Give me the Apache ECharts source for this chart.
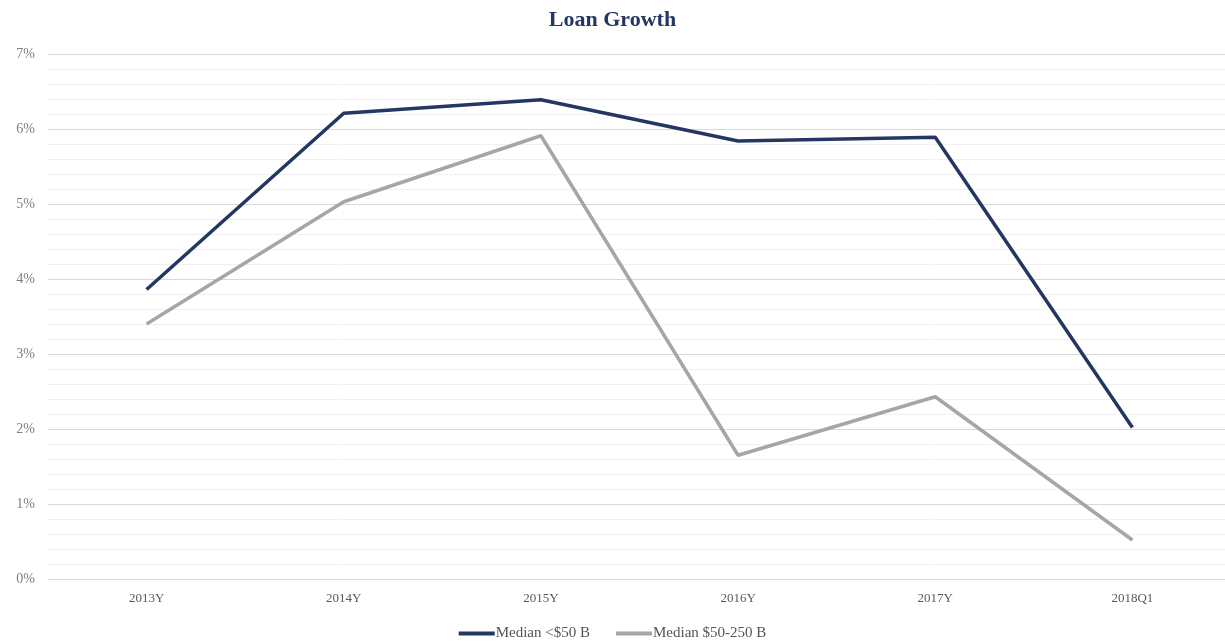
<!DOCTYPE html>
<html>
<head>
<meta charset="utf-8">
<script src="https://cdn.jsdelivr.net/npm/echarts@6/dist/echarts.min.js"></script>
<style>
html,body{margin:0;padding:0;background:#fff;}
#chart{width:1225px;height:641px;}
</style>
</head>
<body>
<div id="chart"></div>
<script>
const categories = ['2013Y','2014Y','2015Y','2016Y','2017Y','2018Q1'];
const medianUnder50 = [3.86, 6.21, 6.39, 5.84, 5.89, 2.02];
const median50to250 = [3.40, 5.03, 5.91, 1.65, 2.43, 0.52];
const seriesNames = ['Median <$50 B', 'Median $50-250 B'];
const yTicks = [0,1,2,3,4,5,6,7];

const chart = echarts.init(document.getElementById('chart'));
const serif = '"Liberation Serif", "DejaVu Serif", serif';
chart.setOption({
  animation: false,
  backgroundColor: '#fff',
  title: {
    text: 'Loan Growth',
    left: 'center',
    top: 4,
    textStyle: {fontFamily: serif, fontWeight: 'bold', fontSize: 22, color: '#243763'}
  },
  legend: {
    top: 621,
    left: 'center',
    itemGap: 26,
    itemWidth: 36,
    itemHeight: 4,
    icon: 'rect',
    textStyle: {fontFamily: serif, fontSize: 15, color: '#555', padding: [0,0,0,-4]},
    data: seriesNames
  },
  grid: {left: 48, right: -6, top: 54, bottom: 62, containLabel: false, outerBoundsMode: 'none'},
  xAxis: {
    type: 'category',
    data: categories,
    boundaryGap: true,
    axisLine: {show: true, lineStyle: {color: '#d9d9d9', width: 1}},
    axisTick: {show: false},
    axisLabel: {fontFamily: serif, fontSize: 13, color: '#595959', margin: 13}
  },
  yAxis: {
    type: 'value',
    min: yTicks[0],
    max: yTicks[yTicks.length-1],
    interval: 1,
    axisLine: {show: false},
    axisTick: {show: false},
    axisLabel: {fontFamily: serif, fontSize: 14, color: '#7f7f7f', formatter: v => v + '%', margin: 13},
    splitLine: {lineStyle: {color: '#d9d9d9', width: 1}},
    minorTick: {show: false, splitNumber: 5},
    minorSplitLine: {show: true, lineStyle: {color: '#f0f0f0', width: 1}}
  },
  series: [
    {
      name: seriesNames[0],
      type: 'line',
      data: medianUnder50,
      symbol: 'none',
      lineStyle: {color: '#243763', width: 3.5},
      itemStyle: {color: '#243763'}
    },
    {
      name: seriesNames[1],
      type: 'line',
      data: median50to250,
      symbol: 'none',
      lineStyle: {color: '#a6a6a6', width: 3.5},
      itemStyle: {color: '#a6a6a6'}
    }
  ]
});
</script>
</body>
</html>
